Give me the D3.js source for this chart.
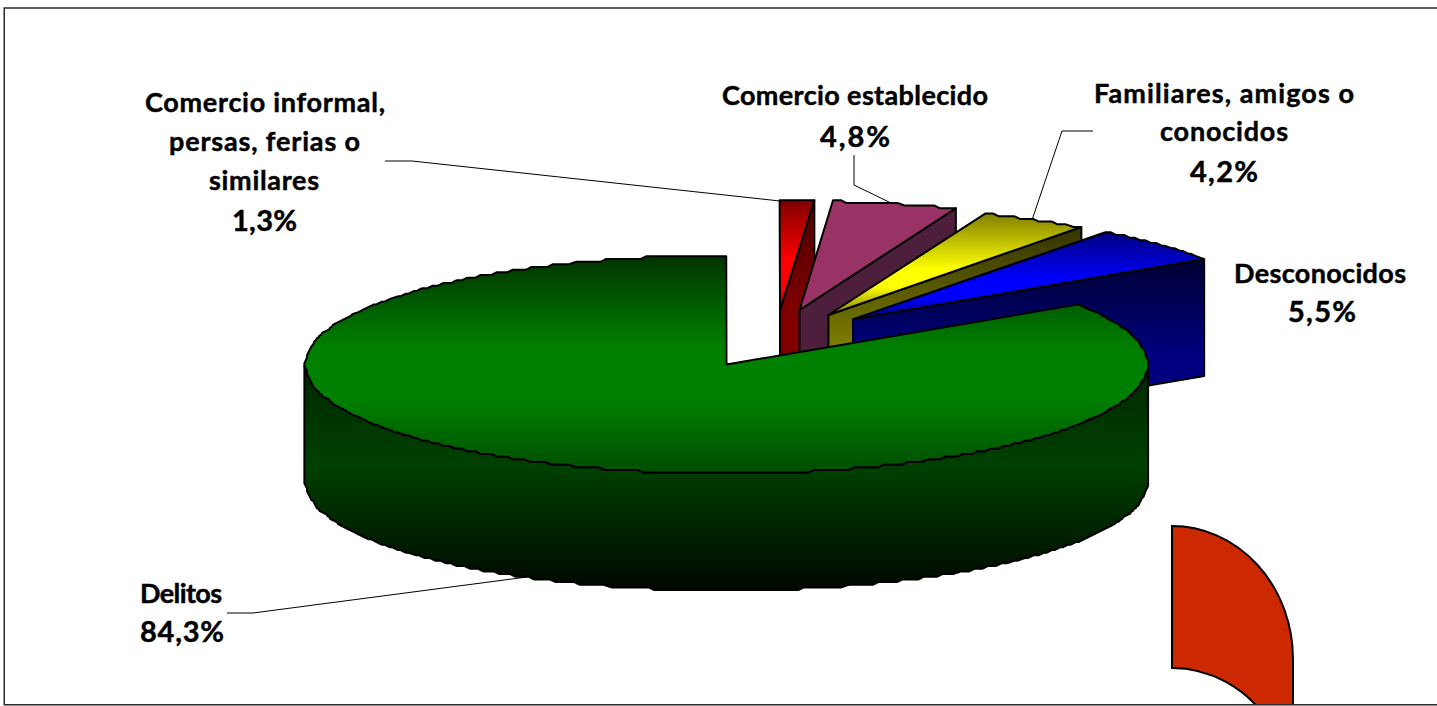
<!DOCTYPE html>
<html><head><meta charset="utf-8">
<script src="https://cdn.jsdelivr.net/npm/d3@7"></script>
<style>html,body{margin:0;padding:0;background:#fff;overflow:hidden}svg{display:block}
text{font-family:"Lato",sans-serif;font-weight:700;fill:#000;stroke:#000;stroke-width:0.45}</style>
</head><body><svg id="c" width="1437" height="706"></svg>
<script>
// ---- data ----
const categories = ["Comercio informal, persas, ferias o similares","Comercio establecido","Familiares, amigos o conocidos","Desconocidos","Delitos"];
const values = [1.3, 4.8, 4.2, 5.5, 84.3];
const valueLabels = ["1,3%","4,8%","4,2%","5,5%","84,3%"];
const labelLines = [
  ["Comercio informal,","persas, ferias o","similares"],
  ["Comercio establecido"],
  ["Familiares, amigos o","conocidos"],
  ["Desconocidos"],
  ["Delitos"]
];

// ---- layout ----
const W = 1437, H = 706;
const rx = 421, ry = 109, depth = 117, grid = 2.67;
const centers = [[780,310],[799.5,310],[828.4,315],[853,319.3],[726.5,364.5]];
const labelCenters = [[265,264.5,264,264.5],[855,855],[1224,1224,1224],[1320,1322],[181,182]];
const labelWidths = [[240,191,110,65],[266,70],[260,128,68],[172,68],[82,84]];
const labelBaselines = [
  [112,151,190,231],
  [105,147],
  [103,141,182],
  [283,322],
  [603,642]
];
const leaders = [
  [[385,161],[412,161],[780,201]],
  [[854,155],[854,185],[891,203]],
  [[1093,131],[1062,131],[1032,220]],
  [],
  [[227,613],[253,613],[527,577]]
];
const topFills = ["url(#gRed)","#993366","url(#gYellow)","url(#gBlue)","url(#gGreen)"];
const wallFills = ["url(#wRed)","url(#wPink)","url(#wYellow)","url(#wBlue)","url(#wGreen)"];

const svg = d3.select("#c");
const defs = svg.append("defs");
function grad(id, stops, space){
  const g = defs.append("linearGradient").attr("id",id).attr("x1",0).attr("x2",0);
  if(space){ g.attr("gradientUnits","userSpaceOnUse").attr("x1",0).attr("x2",0).attr("y1",space[0]).attr("y2",space[1]); }
  else g.attr("y1",0).attr("y2",1);
  stops.forEach(s=>g.append("stop").attr("offset",s[0]).attr("stop-color",s[1]));
}
grad("gRed",[[0,"#800000"],[0.55,"#ff0000"],[0.8,"#ff0000"],[1,"#b00000"]]);
grad("gYellow",[[0,"#808000"],[0.55,"#ffff00"],[0.72,"#ffff00"],[1,"#808000"]]);
grad("gBlue",[[0,"#000080"],[0.55,"#0000ff"],[0.75,"#0000ff"],[1,"#000080"]]);
grad("gGreen",[[0,"#003300"],[0.42,"#008000"],[0.66,"#008000"],[1,"#004d00"]]);
grad("wRed",[[0,"#4d0000"],[0.5,"#800000"],[1,"#800000"]]);
grad("wPink",[[0,"#4d1f3d"],[1,"#4d1f3d"]]);
grad("wYellow",[[0,"#333300"],[0.6,"#808000"],[1,"#808000"]]);
grad("wBlue",[[0,"#000033"],[0.55,"#000080"],[1,"#000080"]]);
grad("wGreen",[[0,"#002800"],[0.45,"#004000"],[1,"#000800"]],[365,590]);

defs.append("clipPath").attr("id","frame").append("rect").attr("x",0).attr("y",0).attr("width",W).attr("height",704.5);

// ---- pie geometry ----
const pie = d3.pie().sort(null).value(d=>d);
const arcs = pie(values);
const unitX = d3.scaleLinear().domain([-1,1]).range([-rx,rx]);
const unitY = d3.scaleLinear().domain([-1,1]).range([ry,-ry]);
// the reference's curves sit on a coarse device grid, which gives them small soft steps
const snap = v=>Math.round(v/grid)*grid;
const pt = (c,a,dz=0)=>[snap(c[0]+unitX(Math.sin(a))), snap(c[1]+unitY(Math.cos(a))+dz)];
const line = d3.line();
const sweep = (a0,a1)=>{ const n=Math.max(2,Math.ceil(Math.abs(a1-a0)/0.002)); return d3.range(n+1).map(i=>a0+(a1-a0)*i/n); };
function steps(points){
  const u = points.filter((p,i)=>i===0||p[0]!==points[i-1][0]||p[1]!==points[i-1][1]);
  return u.map((p,i)=>{
    if(i===0||i===u.length-1) return p;
    return [(u[i-1][0]+p[0]+u[i+1][0])/3,(u[i-1][1]+p[1]+u[i+1][1])/3];
  });
}
const topPath = (c,d)=> line([c].concat(steps(sweep(d.startAngle,d.endAngle).map(a=>pt(c,a)))))+"Z";
const sideWall = (c,d)=>{ const e=pt(c,d.endAngle); return line([c,e,[e[0],e[1]+depth],[c[0],c[1]+depth]])+"Z"; };
const frontWall = (c,d)=>{
  const as = sweep(Math.max(d.startAngle,Math.PI/2),Math.min(d.endAngle,1.5*Math.PI));
  return line(steps(as.map(a=>pt(c,a))).concat(steps(as.slice().reverse().map(a=>pt(c,a,depth)))))+"Z";
};

// ---- frame and decoration ----
svg.append("rect").attr("width",W).attr("height",H).attr("fill","#fff");

const deco = svg.append("g").attr("clip-path","url(#frame)");
deco.append("path")
  .attr("d","M1172,526 A121,133 0 0 1 1293,659 L1293,720 L1268,720 A121,133 0 0 0 1172,668 Z")
  .attr("fill","#cc2900").attr("stroke","#000").attr("stroke-width",2);

svg.append("rect").attr("x",4.25).attr("y",8).attr("width",1500).attr("height",696.75)
  .attr("fill","none").attr("stroke","#2a2a2a").attr("stroke-width",1.5);

// ---- leader lines ----
svg.append("g").selectAll("path").data(leaders.filter(l=>l.length)).join("path")
  .attr("d",d=>line(d)).attr("fill","none").attr("stroke","#000").attr("stroke-width",1);

// ---- slices ----
const g = svg.append("g").attr("stroke","#000").attr("stroke-width",2).attr("stroke-linejoin","round");
arcs.forEach((d,i)=>{
  const c = centers[i];
  if(i<4){
    g.append("path").attr("d",sideWall(c,d)).attr("fill",wallFills[i]);
  } else {
    g.append("path").attr("d",frontWall(c,d)).attr("fill",wallFills[i]);
  }
  g.append("path").attr("d",topPath(c,d)).attr("fill",topFills[i]);
});

// ---- labels ----
const t = svg.append("g").attr("text-anchor","middle");
labelLines.forEach((lines,i)=>{
  lines.concat([valueLabels[i]]).forEach((s,j)=>{
    t.append("text").attr("x",labelCenters[i][j]).attr("y",labelBaselines[i][j])
      .attr("font-size", j===lines.length ? 29 : 27)
      .attr("textLength",labelWidths[i][j]).attr("lengthAdjust","spacing").text(s);
  });
});
</script></body></html>
